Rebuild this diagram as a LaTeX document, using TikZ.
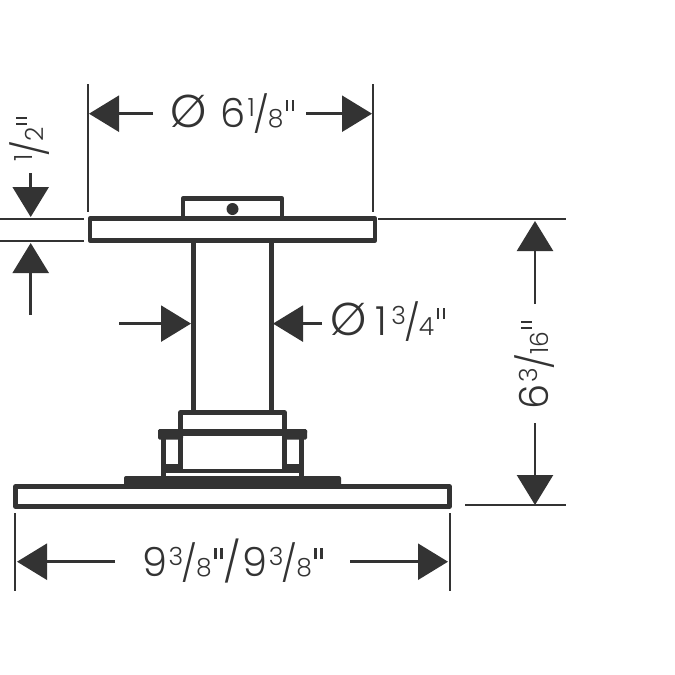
\documentclass[tikz,border=0pt]{standalone}
\usepackage{fontspec}
\setmainfont{Poppins Light}
\usetikzlibrary{arrows.meta}
\definecolor{ink}{HTML}{333333}
\newcommand{\bigtxt}{\fontsize{40}{40}\selectfont}
\newcommand{\dimfrac}[2]{\kern1.5pt\raisebox{11pt}{\fontsize{25}{25}\selectfont #1}\kern-1.5pt\raisebox{0pt}{\fontsize{36}{36}\selectfont /}\kern-1.5pt{\fontsize{25}{25}\selectfont #2}}
\newcommand{\inch}{\kern2.5pt\raisebox{17pt}{\textcolor{ink}{\rule{2.4pt}{11pt}\kern3.6pt\rule{2.4pt}{11pt}}}}
\newcommand{\dia}{{\fontsize{46}{46}\selectfont Ø}}
\tikzset{
  part/.style={draw=ink,line width=4.8pt,line join=round},
  extline/.style={draw=ink,line width=2pt},
  dimline/.style={draw=ink,line width=2.5pt,-{Triangle[length=30pt,width=36pt]}},
  dimlabel/.style={text=ink,inner sep=0pt,font=\bigtxt}
}
\begin{document}
\begin{tikzpicture}[x=1pt,y=-1pt]
\useasboundingbox (0,0) rectangle (675,675);
% mounting plate and cap
\draw[part] (183,218.5) -- (183,198.5) -- (282,198.5) -- (282,218.5);
\fill[ink] (232.5,209) circle (6);
\draw[part] (90,218.5) rectangle (375,240.5);
% column
\draw[part] (193.5,241) -- (193.5,412);
\draw[part] (271.5,241) -- (271.5,412);
% collar and flange
\draw[part] (180.5,471) -- (180.5,412.5) -- (284.5,412.5) -- (284.5,471);
\draw[part] (163.5,476) -- (163.5,434) -- (301.5,434) -- (301.5,476);
\draw[part] (163.5,471) -- (301.5,471);
\fill[ink,rounded corners=1.5pt] (158,429) rectangle (307,434);
\fill[ink,rounded corners=1.5pt] (158,429) rectangle (183,439.5);
\fill[ink,rounded corners=1.5pt] (282,429) rectangle (307,439.5);
\fill[ink] (166,464) rectangle (178,473);
\fill[ink] (287,464) rectangle (299,473);
% shower head
\fill[ink,rounded corners=2pt] (124,487) -- (124,476) -- (341,476) -- (341,487) -- cycle;
\draw[part] (15.5,486.5) rectangle (449.5,506.5);
% extension lines
\draw[extline] (88,84) -- (88,212);
\draw[extline] (373,84) -- (373,212);
\draw[extline] (0,219) -- (84,219);
\draw[extline] (0,240.7) -- (84,240.7);
\draw[extline] (378,219.3) -- (566,219.3);
\draw[extline] (465,505.3) -- (566,505.3);
\draw[extline] (15,513) -- (15,591);
\draw[extline] (449.5,513) -- (449.5,591);
% labels
\node[dimlabel] (topdia) at (232.5,114) {\dia\kern14pt6\dimfrac{1}{8}\inch};
\node[dimlabel,rotate=90] (flat) at (30,140) {\dimfrac{1}{2}\inch};
\node[dimlabel] (tubedia) at (388,322) {\dia\kern8pt 1\kern3pt\dimfrac{3}{4}\inch};
\node[dimlabel,rotate=90] (height) at (535,365) {6\dimfrac{3}{16}\inch};
\node[dimlabel] (width) at (232.5,561) {9\dimfrac{3}{8}\inch\kern1pt/\kern1pt 9\dimfrac{3}{8}\inch};
% dimension arrows
\coordinate (topl) at (89,113.7);
\coordinate (topls) at (153,113.7);
\coordinate (topr) at (372,113.7);
\coordinate (toprs) at (306,113.7);
\coordinate (flatu) at (30.7,217);
\coordinate (flatus) at (30.7,173);
\coordinate (flatd) at (30.7,243);
\coordinate (flatds) at (30.7,315);
\coordinate (tubel) at (191,323.6);
\coordinate (tubels) at (119,323.6);
\coordinate (tuber) at (273,323.6);
\coordinate (tubers) at (322,323.6);
\coordinate (hgtu) at (535,221);
\coordinate (hgtus) at (535,304);
\coordinate (hgtd) at (535,505);
\coordinate (hgtds) at (535,423);
\coordinate (widl) at (17,561.7);
\coordinate (widls) at (115,561.7);
\coordinate (widr) at (448,561.7);
\coordinate (widrs) at (350,561.7);
\foreach \from/\to in {topls/topl,toprs/topr,flatus/flatu,flatds/flatd,tubels/tubel,
  tubers/tuber,hgtus/hgtu,hgtds/hgtd,widls/widl,widrs/widr}
  \draw[dimline] (\from) -- (\to);
\end{tikzpicture}
\end{document}
